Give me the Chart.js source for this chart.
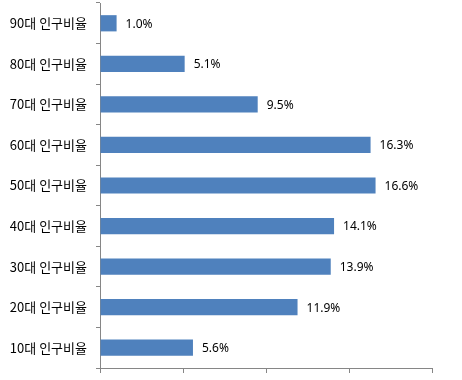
<!DOCTYPE html>
<html>
<head>
<meta charset="utf-8">
<script src="https://cdn.jsdelivr.net/npm/chart.js@4"></script>
<style>
  html, body { margin: 0; padding: 0; background: #fff; }
  #wrap { width: 462px; height: 380px; }
</style>
</head>
<body>
<div id="wrap"><canvas id="myChart" width="462" height="380"></canvas></div>
<script>
// categories top to bottom
const labels = ['90대 인구비율', '80대 인구비율', '70대 인구비율', '60대 인구비율', '50대 인구비율',
    '40대 인구비율', '30대 인구비율', '20대 인구비율', '10대 인구비율']
const ratios = [1.0, 5.1, 9.5, 16.3, 16.6, 14.1, 13.9, 11.9, 5.6]
const xTicks = [0, 5, 10, 15, 20]

const axisColor = '#868686'

// value labels after the end of each bar
const valueLabels = {
    id: 'valueLabels',
    afterDatasetsDraw(chart) {
        const ctx = chart.ctx
        const meta = chart.getDatasetMeta(0)
        ctx.save()
        ctx.font = '12px "Noto Sans", sans-serif'
        ctx.fillStyle = '#000'
        ctx.textAlign = 'left'
        ctx.textBaseline = 'middle'
        meta.data.forEach((bar, i) => {
            ctx.fillText(ratios[i].toFixed(1) + '%', bar.x + 9, bar.y + 1)
        })
        ctx.restore()
    }
}

const ctx = document.getElementById('myChart')
const myChart = new Chart(ctx, {
    type: 'bar',
    data: {
        labels: labels,
        datasets: [{
            data: ratios,
            backgroundColor: '#4F81BD',
            borderWidth: 0,
            barPercentage: 0.4,
            categoryPercentage: 1.0
        }]
    },
    options: {
        indexAxis: 'y',
        responsive: false,
        animation: false,
        layout: { padding: { top: 3, right: 30, left: 0, bottom: 0 } },
        plugins: {
            legend: { display: false },
            tooltip: { enabled: false }
        },
        scales: {
            x: {
                min: xTicks[0],
                max: xTicks[xTicks.length - 1],
                afterBuildTicks: (scale) => {
                    scale.ticks = xTicks.map(v => ({ value: v }))
                },
                ticks: { display: false },
                grid: {
                    drawOnChartArea: false,
                    drawTicks: true,
                    tickLength: 5,
                    color: axisColor
                },
                border: { display: true, color: axisColor, width: 1 },
                afterFit: (scale) => {
                    scale.height = 12
                    scale.paddingLeft = 0
                    scale.paddingRight = 0
                }
            },
            y: {
                ticks: {
                    color: '#000',
                    padding: 9,
                    font: { family: '"Noto Sans CJK KR", sans-serif', size: 13 }
                },
                grid: {
                    drawOnChartArea: false,
                    drawTicks: true,
                    tickLength: 4,
                    offset: true,
                    color: axisColor
                },
                border: { display: true, color: axisColor, width: 1 },
                afterFit: (scale) => {
                    scale.width = 100
                    scale.paddingTop = 0
                    scale.paddingBottom = 0
                }
            }
        }
    },
    plugins: [valueLabels]
})
</script>
</body>
</html>
